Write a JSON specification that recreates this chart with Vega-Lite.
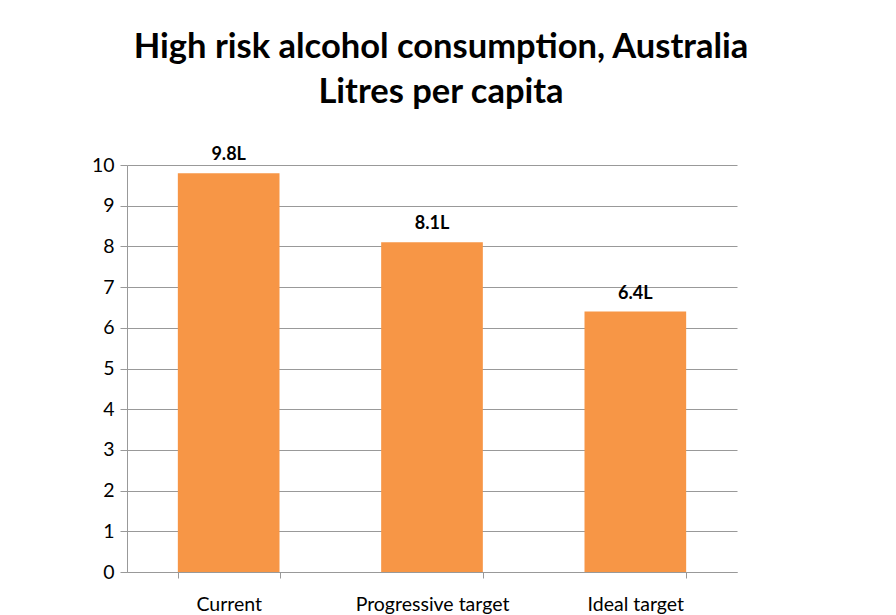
{
  "$schema": "https://vega.github.io/schema/vega-lite/v6.json",
  "autosize": {"type": "none"},
  "width": 610,
  "height": 407,
  "padding": {"left": 127, "top": 165, "right": 159, "bottom": 43},
  "background": "white",
  "title": {
    "text": ["High risk alcohol consumption, Australia", "Litres per capita"],
    "font": "Lato",
    "fontSize": 34.5,
    "fontWeight": "bold",
    "color": "black",
    "lineHeight": 45,
    "anchor": "middle",
    "dx": 9,
    "offset": 36
  },
  "data": {
    "values": [
      {"category": "Current", "value": 9.8, "label": "9.8L"},
      {"category": "Progressive target", "value": 8.1, "label": "8.1L"},
      {"category": "Ideal target", "value": 6.4, "label": "6.4L"}
    ]
  },
  "encoding": {
    "x": {
      "field": "category",
      "type": "nominal",
      "sort": null,
      "scale": {"paddingInner": 0.5, "paddingOuter": 0.25},
      "axis": {
        "title": null,
        "labelAngle": 0,
        "labelFont": "Lato",
        "labelFontSize": 19.5,
        "labelColor": "black",
        "labelPadding": 17,
        "tickBand": "extent",
        "tickSize": 6,
        "tickColor": "#999999",
        "domainColor": "#999999"
      }
    },
    "y": {
      "field": "value",
      "type": "quantitative",
      "scale": {"domain": [0, 10], "nice": false},
      "axis": {
        "title": null,
        "values": [0, 1, 2, 3, 4, 5, 6, 7, 8, 9, 10],
        "labelOverlap": false,
        "labelFont": "Lato",
        "labelFontSize": 19.5,
        "labelColor": "black",
        "labelPadding": 6,
        "tickSize": 7,
        "tickColor": "#999999",
        "domainColor": "#999999",
        "gridColor": "#999999",
        "grid": true
      }
    }
  },
  "layer": [
    {"mark": {"type": "bar", "color": "#F79646"}},
    {
      "mark": {"type": "text", "dy": -18, "font": "Lato", "fontSize": 18, "fontWeight": "bold", "color": "black"},
      "encoding": {"text": {"field": "label"}}
    }
  ],
  "config": {"view": {"stroke": null}}
}
